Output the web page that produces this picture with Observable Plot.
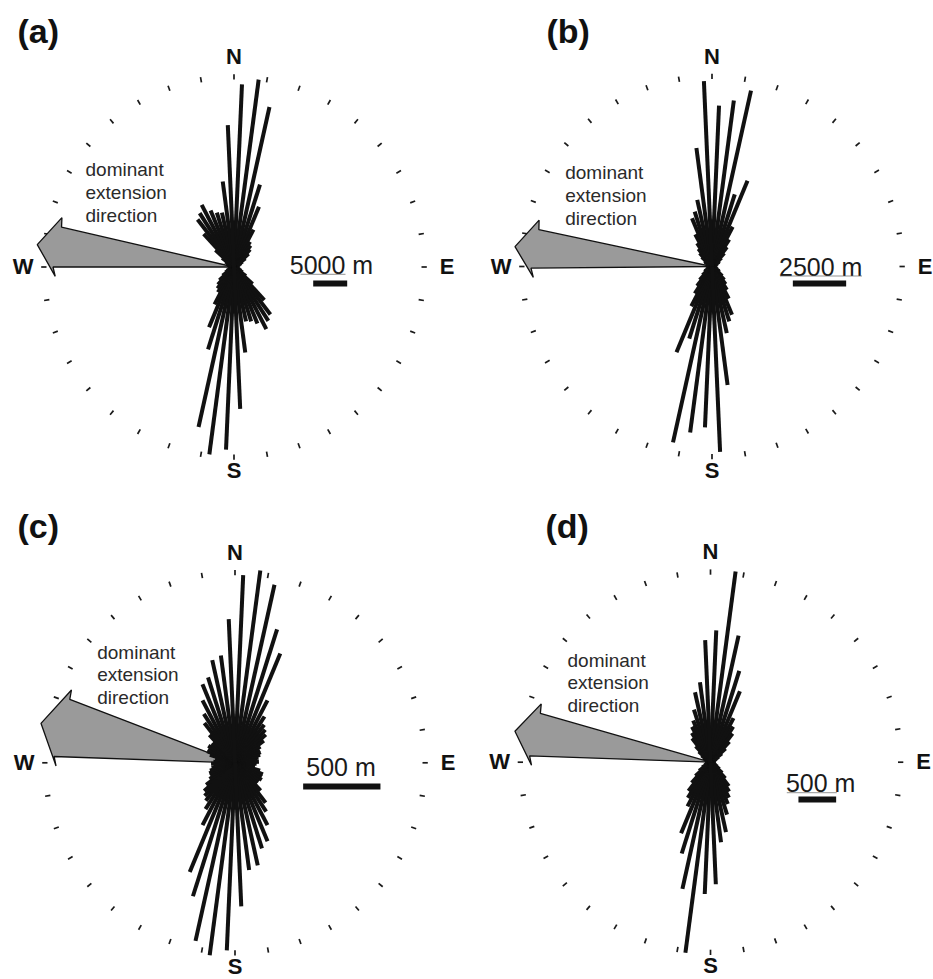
<!DOCTYPE html>
<html>
<head>
<meta charset="utf-8">
<script src="https://cdn.jsdelivr.net/npm/d3@7"></script>
<script src="https://cdn.jsdelivr.net/npm/@observablehq/plot@0.6"></script>
<style>
  body { margin: 0; background: #fff; }
  #fig { position: relative; width: 933px; height: 979px; overflow: hidden; }
  #fig > div { position: absolute; }
</style>
</head>
<body>
<div id="fig"></div>
<script>
// ---------------- data ----------------
const panelLabels = ["(a)", "(b)", "(c)", "(d)"];
// strike azimuth bin centres (5° bins, axial data, mirrored to +180°)
const binCentres = [2.5, 7.5, 12.5, 17.5, 22.5, 27.5, 32.5, 37.5, 42.5, 47.5, 52.5, 57.5,
  62.5, 67.5, 72.5, 77.5, 82.5, 87.5, 92.5, 97.5, 102.5, 107.5, 112.5, 117.5,
  122.5, 127.5, 132.5, 137.5, 142.5, 147.5, 152.5, 157.5, 162.5, 167.5, 172.5, 177.5];
// cumulative fault length per bin (m)
const lengthA = [26900, 27800, 24100, 12700, 9600, 6200, 4400, 4000, 3500, 2900, 2100, 1500,
  1200, 900, 700, 600, 400, 400, 400, 400, 600, 700, 900, 1200,
  1500, 2200, 3700, 6600, 8800, 9400, 10300, 9000, 8400, 8200, 12700, 20900];
const lengthB = [7550, 7850, 8450, 3550, 4350, 2100, 1500, 1150, 850, 600, 450, 400,
  300, 250, 200, 200, 150, 150, 150, 150, 200, 200, 250, 300,
  400, 450, 650, 850, 1050, 1300, 1700, 2450, 2700, 3200, 5600, 8700];
const lengthC = [1215, 1255, 1180, 905, 765, 455, 355, 310, 290, 270, 235, 195,
  180, 180, 170, 155, 140, 155, 140, 130, 130, 170, 195, 195,
  205, 195, 195, 245, 325, 375, 455, 550, 580, 680, 700, 930];
const lengthD = [1750, 2550, 1720, 1270, 1020, 660, 560, 480, 370, 270, 190, 130,
  90, 70, 50, 50, 40, 40, 40, 40, 40, 50, 70, 80,
  110, 150, 210, 290, 400, 460, 530, 600, 730, 950, 1070, 1620];
const petalLengths = [lengthA, lengthB, lengthC, lengthD];
// radius of the tick ring expressed in metres (diagram scale)
const ringRadiusMetres = [27950, 8910, 1229, 2520];
const scaleBarMetres = [5000, 2500, 500, 500];
const scaleBarLabels = ["5000 m", "2500 m", "500 m", "500 m"];
// dominant extension direction: azimuth range of the arrow (degrees)
const extensionFrom = [270, 269.5, 272, 272];
const extensionTo = [283, 282, 291, 286];
const extensionText = "dominant\nextension\ndirection";
const compassLabels = ["N", "E", "S", "W"];
const compassAzimuths = [0, 90, 180, 270];
const tickAzimuths = [0, 10, 20, 30, 40, 50, 60, 70, 80, 90, 100, 110, 120, 130, 140, 150, 160, 170,
  180, 190, 200, 210, 220, 230, 240, 250, 260, 270, 280, 290, 300, 310, 320, 330, 340, 350];

// ---------------- layout (pixels) ----------------
const R = 190; // tick ring radius in px
const labelRadius = [210, 213, 204, 211]; // px, for N, E, S, W
const layout = [
  {left: 0,   top: 0,   w: 467, h: 495, cx: 233.5, cy: 266.5, lab: [-216.5, -223.7], txt: [-148.5, -45],
   sb: {tx: 97.5, ty: 6.8, bx: 96.2, by: 16.5, ul: [66.5, 111.5]}},
  {left: 466, top: 0,   w: 467, h: 495, cx: 245.5, cy: 266,   lab: [-165.5, -223.2], txt: [-146.8, -41.5],
   sb: {tx: 108.7, ty: 9, bx: 107.5, by: 17, ul: [68, 150]}},
  {left: 0,   top: 495, w: 467, h: 484, cx: 234.5, cy: 267.3, lab: [-217.5, -224.5], txt: [-137.8, -58.6],
   sb: {tx: 106, ty: 12.7, bx: 106.8, by: 23.7, ul: null}},
  {left: 466, top: 495, w: 467, h: 484, cx: 244,   cy: 266.7, lab: [-165, -223.9],   txt: [-143, -50],
   sb: {tx: 110.2, ty: 30, bx: 106.8, by: 37.2, ul: [76.3, 126.3]}}
];

const rad = d => d * Math.PI / 180;
const polarX = (az, r) => r * Math.sin(rad(az));
const polarY = (az, r) => r * Math.cos(rad(az));
const FONT = "Liberation Sans, Arial, Helvetica, sans-serif";

const fig = document.getElementById("fig");

panelLabels.forEach((label, i) => {
  const L = layout[i];
  const Rm = ringRadiusMetres[i];
  const k = Rm / R; // metres per pixel
  const lengths = petalLengths[i];

  const petals = [];
  binCentres.forEach((az, j) => {
    petals.push({az, len: lengths[j]});
    petals.push({az: az + 180, len: lengths[j]});
  });

  const lo = extensionFrom[i], hi = extensionTo[i], mid = (lo + hi) / 2;
  const arrowPolar = [[0, 0], [hi, 177], [hi + 3, 179], [mid, 198], [lo - 3, 179], [lo, 181]];
  const arrow = arrowPolar.map(([a, r]) => ({x: polarX(a, r * k), y: polarY(a, r * k)}));

  const sb = L.sb;
  const barLen = scaleBarMetres[i];
  const marks = [
    // ring ticks
    Plot.link(tickAzimuths, {
      x1: a => polarX(a, (R - 2.5) * k), y1: a => polarY(a, (R - 2.5) * k),
      x2: a => polarX(a, (R + 2.8) * k), y2: a => polarY(a, (R + 2.8) * k),
      stroke: "#1a1a1a", strokeWidth: 1.7
    }),
    // compass labels
    Plot.text(compassLabels, {
      x: (d, j) => polarX(compassAzimuths[j], labelRadius[j] * k),
      y: (d, j) => polarY(compassAzimuths[j], labelRadius[j] * k),
      text: d => d, fontSize: 22, fontWeight: "bold", fill: "#111",
      textAnchor: "middle", lineAnchor: "middle", fontFamily: FONT
    }),
    // dominant extension arrow
    Plot.line(arrow, {
      x: "x", y: "y", curve: "linear-closed",
      fill: "#9a9a9a", stroke: "#111", strokeWidth: 1.3, strokeLinejoin: "miter"
    }),
    // rose petals
    Plot.link(petals, {
      x1: () => 0, y1: () => 0,
      x2: d => polarX(d.az, d.len), y2: d => polarY(d.az, d.len),
      stroke: "#111", strokeWidth: 4, strokeLinecap: "butt"
    }),
    // annotation
    Plot.text([extensionText], {
      x: () => L.txt[0] * k, y: () => -L.txt[1] * k, text: d => d,
      textAnchor: "start", lineAnchor: "bottom", lineHeight: 1.2,
      fontSize: 19, fill: "#2a2a2a", fontFamily: FONT
    }),
    // scale bar
    Plot.text([scaleBarLabels[i]], {
      x: () => sb.tx * k, y: () => -sb.ty * k, text: d => d,
      textAnchor: "middle", lineAnchor: "bottom", fontSize: 25, fill: "#1a1a1a", fontFamily: FONT
    }),
    Plot.link([barLen], {
      x1: d => sb.bx * k - d / 2, x2: d => sb.bx * k + d / 2,
      y1: () => -sb.by * k, y2: () => -sb.by * k,
      stroke: "#111", strokeWidth: 6, strokeLinecap: "butt"
    }),
    // panel label
    Plot.text([label], {
      x: () => L.lab[0] * k, y: () => -L.lab[1] * k, text: d => d,
      textAnchor: "start", lineAnchor: "bottom", fontSize: 34, fontWeight: "bold",
      fill: "#111", fontFamily: FONT
    })
  ];
  if (sb.ul) {
    marks.push(Plot.link([sb.ul], {
      x1: d => d[0] * k, x2: d => d[1] * k,
      y1: () => -(sb.ty + 0.5) * k, y2: () => -(sb.ty + 0.5) * k,
      stroke: "#666", strokeWidth: 0.7
    }));
  }

  const chart = Plot.plot({
    width: L.w, height: L.h,
    margin: 0,
    style: {background: "white", fontFamily: FONT, overflow: "visible"},
    x: {domain: [-Rm, Rm], range: [L.cx - R, L.cx + R], axis: null},
    y: {domain: [-Rm, Rm], range: [L.cy + R, L.cy - R], axis: null},
    marks
  });
  const holder = document.createElement("div");
  holder.style.left = L.left + "px";
  holder.style.top = L.top + "px";
  holder.style.width = L.w + "px";
  holder.style.height = L.h + "px";
  holder.appendChild(chart);
  fig.appendChild(holder);
});
</script>
</body>
</html>
